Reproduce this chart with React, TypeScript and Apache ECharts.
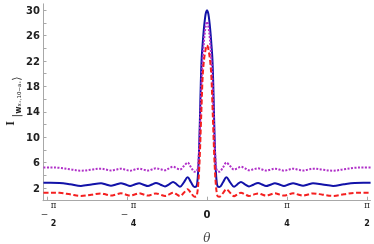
import { useEffect, useRef } from "react";
import * as echarts from "echarts";

// θ in degrees (axis labelled in fractions of π)
const THETA = [
  -92, -88, -83, -77, -70.9, -65, -59.6, -56.8, -54, -51.2, -48.4, -45.8, -43.3, -40.7, -38.2, -35.7,
  -33.2, -31, -28.7, -26.1, -23.6, -21.3, -19.1, -17.1, -15.2, -13, -10.9, -9, -7, -6, -5.5, -5,
  -4.5, -4, -3.5, -3, -2.5, -2, -1.5, -1, -0.5,
  0,
  0.5, 1, 1.5, 2, 2.5, 3, 3.5, 4, 4.5, 5, 5.5, 6, 7, 9, 10.9, 13, 15.2, 17.1, 19.1, 21.3, 23.6,
  26.1, 28.7, 31, 33.2, 35.7, 38.2, 40.7, 43.3, 45.8, 48.4, 51.2, 54, 56.8, 59.6, 65, 70.9, 77, 83,
  88, 92,
];

const BLUE = [
  2.83, 2.83, 2.8, 2.6, 2.33, 2.55, 2.75, 2.55, 2.35, 2.55, 2.75, 2.54, 2.33, 2.55, 2.75, 2.52,
  2.3, 2.55, 2.8, 2.52, 2.25, 2.58, 2.95, 2.58, 2.2, 2.9, 3.7, 2.9, 2.15, 2.25, 2.8, 4.5,
  7.8, 12.8, 18.5, 22.5, 24.5, 26.3, 27.8, 29, 29.7,
  30,
  29.7, 29, 27.8, 26.3, 24.5, 22.5, 18.5, 12.8, 7.8, 4.5, 2.8, 2.25, 2.15, 2.9, 3.7, 2.9, 2.2, 2.58,
  2.95, 2.58, 2.25, 2.52, 2.8, 2.55, 2.3, 2.52, 2.75, 2.55, 2.33, 2.54, 2.75, 2.55, 2.35, 2.55,
  2.75, 2.55, 2.33, 2.6, 2.8, 2.83, 2.83,
];

const PURPLE = [
  5.22, 5.22, 5.18, 4.95, 4.72, 4.9, 5.05, 4.9, 4.75, 4.9, 5.05, 4.88, 4.73, 4.9, 5.05, 4.9,
  4.75, 4.92, 5.1, 4.95, 4.8, 5.1, 5.35, 5.12, 4.9, 5.45, 6.0, 5.25, 4.57, 4.6, 4.8, 5.6,
  7.8, 11.2, 15.5, 19.3, 22, 24, 25.8, 27, 27.8,
  28.2,
  27.8, 27, 25.8, 24, 22, 19.3, 15.5, 11.2, 7.8, 5.6, 4.8, 4.6, 4.57, 5.25, 6.0, 5.45, 4.9, 5.12,
  5.35, 5.1, 4.8, 4.95, 5.1, 4.92, 4.75, 4.9, 5.05, 4.9, 4.73, 4.88, 5.05, 4.9, 4.75, 4.9,
  5.05, 4.9, 4.72, 4.95, 5.18, 5.22, 5.22,
];

const RED = [
  1.27, 1.27, 1.24, 1.0, 0.75, 0.95, 1.15, 0.98, 0.8, 0.98, 1.16, 0.98, 0.8, 0.98, 1.16, 0.98,
  0.8, 0.97, 1.15, 0.95, 0.75, 1.0, 1.26, 1.0, 0.72, 1.25, 1.8, 1.2, 0.63, 0.7, 1.2, 2.4,
  4.5, 7.5, 11.5, 15.5, 19.3, 21.3, 22.6, 23.5, 24.2,
  24.5,
  24.2, 23.5, 22.6, 21.3, 19.3, 15.5, 11.5, 7.5, 4.5, 2.4, 1.2, 0.7, 0.63, 1.2, 1.8, 1.25, 0.72, 1.0,
  1.26, 1.0, 0.75, 0.95, 1.15, 0.97, 0.8, 0.98, 1.16, 0.98, 0.8, 0.98, 1.16, 0.98, 0.8, 0.98,
  1.15, 0.95, 0.75, 1.0, 1.24, 1.27, 1.27,
];

const X_TICKS = [-90, -45, 0, 45, 90];
const X_TICK_LABELS = ["−π/2", "−π/4", "0", "π/4", "π/2"];
const Y_TICKS = [0, 2, 4, 6, 8, 10, 12, 14, 16, 18, 20, 22, 24, 26, 28, 30];
const Y_LABELS = [2, 6, 10, 14, 18, 22, 26, 30];

function fracLabel(s: string): string {
  if (s === "0") return "{e| }\n{z|0}\n{e| }";
  const neg = s.startsWith("−");
  const body = neg ? s.slice(1) : s;
  const [num, den] = body.split("/");
  if (neg) return `{q| }{sp| }{n|${num}}\n{q| }{m|−}{sp| }\n{q| }{sp| }{d|${den}}`;
  return `{n|${num}}\n{e| }\n{d|${den}}`;
}

export default function App() {
  const ref = useRef<HTMLDivElement>(null);
  useEffect(() => {
    if (!ref.current) return;
    const chart = echarts.init(ref.current, null, { renderer: "svg" });
    const axisGray = "#a8a8a8";
    const lh = 9;
    chart.setOption({
      animation: false,
      grid: { left: 43, right: 3.5, top: 3.85, bottom: 43.3, containLabel: false, outerBoundsMode: "none" },
      xAxis: {
        type: "value",
        min: -92.25,
        max: 91.95,
        axisLine: { show: true, onZero: false, lineStyle: { color: axisGray, width: 1 } },
        axisTick: { show: true, inside: true, length: 4, customValues: X_TICKS, lineStyle: { color: axisGray } },
        splitLine: { show: false },
        axisLabel: {
          customValues: X_TICKS,
          margin: 0,
          formatter: (v: number) => {
            const i = X_TICKS.indexOf(Math.round(v));
            return i >= 0 ? fracLabel(X_TICK_LABELS[i]) : "";
          },
          rich: {
            n: { fontSize: 8.5, fontFamily: "DejaVu Serif", color: "#1a1a1a", width: 8, align: "center", lineHeight: lh },
            d: { fontSize: 8, fontWeight: "bold", fontFamily: "DejaVu Sans", color: "#1a1a1a", width: 8, align: "center", lineHeight: lh },
            m: { fontSize: 9, fontFamily: "DejaVu Sans", color: "#333", width: 9, align: "center", lineHeight: lh },
            sp: { width: 9, align: "center", lineHeight: lh },
            q: { width: 4, align: "center", lineHeight: lh },
            z: { fontSize: 10, fontWeight: "bold", fontFamily: "DejaVu Sans", color: "#1a1a1a", align: "center", lineHeight: lh },
            e: { fontSize: 8, lineHeight: lh, align: "center" },
          },
        },
        name: "θ",
        nameLocation: "middle",
        nameGap: 31,
        nameMoveOverlap: false,
        nameTextStyle: { fontSize: 12, lineHeight: 12, fontStyle: "italic", fontFamily: "DejaVu Serif", color: "#444", verticalAlign: "top" },
      },
      yAxis: {
        type: "value",
        min: 0,
        max: 31,
        axisLine: { show: true, onZero: false, lineStyle: { color: axisGray, width: 1 } },
        axisTick: { show: true, inside: true, length: 3.5, customValues: Y_TICKS, lineStyle: { color: axisGray } },
        splitLine: { show: false },
        axisLabel: {
          customValues: Y_LABELS,
          margin: 3,
          fontSize: 10,
          fontWeight: "bold",
          fontFamily: "DejaVu Sans",
          color: "#222",
        },
      },
      graphic: [
        {
          type: "text",
          x: 13,
          y: 101,
          rotation: Math.PI / 2,
          style: {
            text: "{I|I}{k| |}{w|w}{s|x₊,10−a₊}{k|⟩}",
            align: "center",
            verticalAlign: "middle",
            rich: {
              I: { fontSize: 12, fontWeight: "bold", fontFamily: "Liberation Serif", fill: "#222", lineHeight: 18, verticalAlign: "top" },
              k: { fontSize: 11, fontFamily: "DejaVu Sans", fill: "#333", lineHeight: 18, verticalAlign: "bottom" },
              w: { fontSize: 8, fontWeight: "bold", fontFamily: "DejaVu Sans", fill: "#222", lineHeight: 14, verticalAlign: "bottom" },
              s: { fontSize: 5.5, fontFamily: "DejaVu Sans", fill: "#222", lineHeight: 12, verticalAlign: "bottom" },
            },
          },
        },
      ],
      series: [
        {
          type: "line",
          data: THETA.map((t, i) => [t, BLUE[i]]),
          showSymbol: false,
          smooth: 0.35,
          lineStyle: { color: "#1212a8", width: 2 },
          z: 2,
        },
        {
          type: "line",
          data: THETA.map((t, i) => [t, PURPLE[i]]),
          showSymbol: false,
          smooth: 0.35,
          lineStyle: { color: "#b030c8", width: 2, type: [2, 1.5] },
          z: 3,
        },
        {
          type: "line",
          data: THETA.map((t, i) => [t, RED[i]]),
          showSymbol: false,
          smooth: 0.35,
          lineStyle: { color: "#f42020", width: 2, type: [5, 2.5] },
          z: 4,
        },
      ],
    });
    return () => chart.dispose();
  }, []);
  return <div ref={ref} style={{ position: "fixed", left: 0, top: 0, width: 374, height: 244 }} />;
}
